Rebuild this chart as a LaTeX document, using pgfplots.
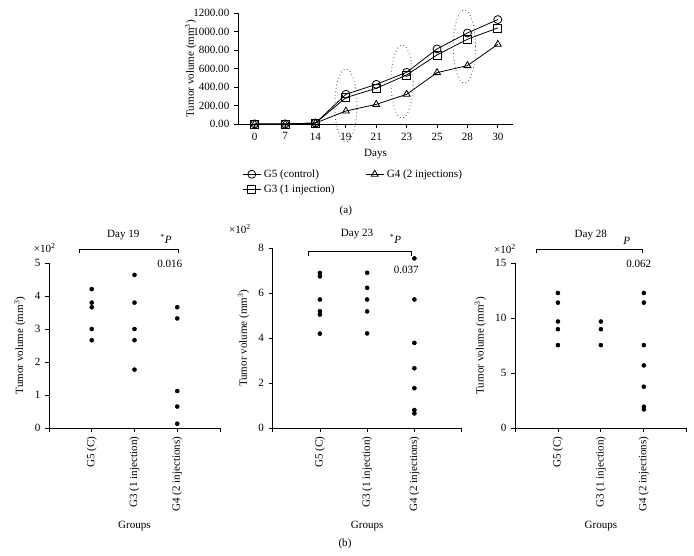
\documentclass[border=0pt]{standalone}
\usepackage{fontspec}
\setmainfont{Liberation Serif}
\usepackage{pgfplots}
\pgfplotsset{compat=1.18}
\pgfplotsset{
  myax/.style={scale only axis, axis lines=left, axis line style={-, line width=0.6pt},
    tick style={black, line width=0.6pt}, tick align=outside, major tick length=3pt,
    clip=false, /pgf/number format/assume math mode=true,
    tick label style={font=\fontsize{8.3}{10}\selectfont},
    label style={font=\fontsize{8.3}{10}\selectfont}},
  dots/.style={only marks, mark=*, mark size=1.5pt, black},
}
\begin{document}
\begin{tikzpicture}[x=0.75pt,y=-0.75pt,font=\fontsize{8.3}{10}\selectfont]
\useasboundingbox (0,0) rectangle (694,556);
% ---------- (a) ----------
\begin{axis}[myax, at={(178.5pt,-93pt)}, anchor=south west, width=206.25pt, height=83pt,
  xmin=-0.55, xmax=8.5, ymin=0, ymax=1200,
  xtick={0,...,8}, xticklabels={0,7,14,19,21,23,25,28,30},
  ytick={0,200,...,1200},
  yticklabel style={/pgf/number format/.cd, fixed, fixed zerofill, precision=2, 1000 sep={}},
  xlabel={Days}, ylabel={Tumor volume (mm\textsuperscript{3})}, ylabel shift=-9pt,
  legend columns=2, transpose legend, legend cell align=left,
  legend style={draw=none, fill=none, at={(0.0,-0.36)}, anchor=north west,
    font=\fontsize{8.3}{10}\selectfont,
    /tikz/every even column/.append style={column sep=21pt}},
  legend image code/.code={\draw[mark repeat=2,mark phase=2] plot coordinates {(0cm,0cm)(0.24cm,0cm)(0.48cm,0cm)};},
  every axis plot/.append style={black, line width=0.6pt, mark size=3pt, mark options={fill=white, solid}}]
\addplot[mark=o] coordinates {(0,0)(1,0)(2,10)(3,322)(4,430)(5,560)(6,814)(7,987)(8,1132)};
\addlegendentry{G5 (control)}
\addplot[mark=square] coordinates {(0,0)(1,0)(2,10)(3,286)(4,387)(5,532)(6,749)(7,919)(8,1042)};
\addlegendentry{G3 (1 injection)}
\addplot[mark=triangle] coordinates {(0,0)(1,0)(2,10)(3,141)(4,213)(5,322)(6,557)(7,633)(8,864)};
\addlegendentry{G4 (2 injections)}
\draw[dotted, black!70, line width=0.6pt] (axis cs:3,200) ellipse [x radius=8.3pt, y radius=27.4pt];
\draw[dotted, black!70, line width=0.6pt] (axis cs:4.85,460) ellipse [x radius=8.3pt, y radius=27.4pt];
\draw[dotted, black!70, line width=0.6pt] (axis cs:6.9,840) ellipse [x radius=8.3pt, y radius=27.4pt];
\end{axis}
\node at (345.8,210.5) {(a)};
% ---------- (b) Day 19 ----------
\begin{axis}[myax, at={(36.75pt,-321pt)}, anchor=south west, width=128.25pt, height=123.75pt,
  xmin=0, xmax=4, ymin=0, ymax=5, ytick={0,...,5},
  xtick={0,...,4}, xticklabels={,G5 (C),G3 (1 injection),G4 (2 injections),},
  xticklabel style={rotate=90, anchor=east},
  xlabel={Groups}, ylabel={Tumor volume (mm\textsuperscript{3})}]
\addplot[dots] coordinates {(1,4.21)(1,3.80)(1,3.66)(1,3.0)(1,2.66)};
\addplot[dots] coordinates {(2,4.64)(2,3.80)(2,3.0)(2,2.66)(2,1.77)};
\addplot[dots] coordinates {(3,3.66)(3,3.32)(3,1.12)(3,0.65)(3,0.13)};
\end{axis}
\draw[line width=0.6pt] (79,253) -- (79,249) -- (178,249) -- (178,253);
\node at (123.3,235.3) {Day 19};
\node at (166,239) {\textsuperscript{*}\textit{P}};
\node at (169.8,263.7) {0.016};
\node at (44.7,247.7) {×10\textsuperscript{2}};
% ---------- (b) Day 23 ----------
\begin{axis}[myax, at={(204.5pt,-321pt)}, anchor=south west, width=141.75pt, height=134.8pt,
  xmin=0, xmax=4, ymin=0, ymax=8, ytick={0,2,...,8},
  xtick={0,...,4}, xticklabels={,G5 (C),G3 (1 injection),G4 (2 injections),},
  xticklabel style={rotate=90, anchor=east},
  xlabel={Groups}, ylabel={Tumor volume (mm\textsuperscript{3})}]
\addplot[dots] coordinates {(1,6.9)(1,6.75)(1,5.72)(1,5.2)(1,5.05)(1,4.2)};
\addplot[dots] coordinates {(2,6.91)(2,6.24)(2,5.72)(2,5.19)(2,4.21)};
\addplot[dots] coordinates {(3,7.55)(3,5.72)(3,3.79)(3,2.66)(3,1.77)(3,0.80)(3,0.65)};
\end{axis}
\draw[line width=0.6pt] (308.7,256) -- (308.7,251.7) -- (411,251.7) -- (411,256);
\node at (357,234.5) {Day 23};
\node at (395.5,238.8) {\textsuperscript{*}\textit{P}};
\node at (406.3,269.5) {0.037};
\node at (240,228.7) {×10\textsuperscript{2}};
% ---------- (b) Day 28 ----------
\begin{axis}[myax, at={(386.25pt,-321pt)}, anchor=south west, width=128.8pt, height=123.5pt,
  xmin=0, xmax=4, ymin=0, ymax=15, ytick={0,5,10,15},
  xtick={0,...,4}, xticklabels={,G5 (C),G3 (1 injection),G4 (2 injections),},
  xticklabel style={rotate=90, anchor=east},
  xlabel={Groups}, ylabel={Tumor volume (mm\textsuperscript{3})}]
\addplot[dots] coordinates {(1,12.3)(1,11.42)(1,9.7)(1,9.0)(1,7.55)};
\addplot[dots] coordinates {(2,9.7)(2,9.0)(2,7.55)};
\addplot[dots] coordinates {(3,12.3)(3,11.42)(3,7.55)(3,5.7)(3,3.76)(3,1.94)(3,1.7)};
\end{axis}
\draw[line width=0.6pt] (536.7,253) -- (536.7,249) -- (642,249) -- (642,253);
\node at (590.8,235.3) {Day 28};
\node at (626.7,241.3) {\textit{P}};
\node at (638.7,263.8) {0.062};
\node at (505,248.7) {×10\textsuperscript{2}};
\node at (345,544) {(b)};
\end{tikzpicture}
\end{document}
